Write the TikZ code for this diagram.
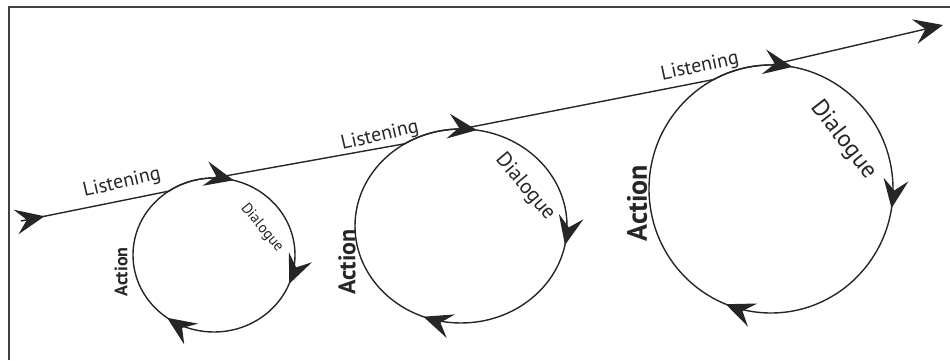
\documentclass[tikz,border=0pt]{standalone}
\usepackage{fontspec}
\setmainfont{PT Sans}
\usetikzlibrary{arrows.meta,decorations.markings,calc}

\begin{document}
\begin{tikzpicture}[x=0.5pt,y=0.5pt,
  line/.style={draw=black!85, line width=0.7pt},
  frame/.style={draw=black!75, line width=1.1pt},
  coilhead/.tip={Stealth[length=14.5pt,width=12.5pt,inset=5.5pt]},
  loop arrows/.style n args={3}{postaction={decorate},
    decoration={markings,
      mark=at position #1 with {\arrow{coilhead}},
      mark=at position #2 with {\arrow{coilhead}},
      mark=at position #3 with {\arrow{coilhead}}}},
  label/.style={inner sep=0pt, text=black!85}]

% ============================================================
% page and frame
% ============================================================

\useasboundingbox (0,0) rectangle (950,360);
\draw[frame] (9,0) -- (9,353) -- (950,353);

% ============================================================
% the three loops (centre, radii, entry angle, arrow positions)
% ============================================================

\foreach \n/\cx/\cy/\rx/\ry/\ain/\pa/\pb/\pc in {
    1/214/105/81/77/124/0.04/0.31/0.60,
    2/461/134/106/97/122/0.025/0.28/0.56,
    3/771/171/122/124/118/0.028/0.275/0.56} {

  \coordinate (loop\n) at (\cx,\cy);
  \coordinate (top\n) at ($(loop\n)+(0,\ry)$);
  \coordinate (entry\n) at ($(loop\n)+({\rx*cos(\ain)},{\ry*sin(\ain)})$);

  % clockwise, starting at the top
  \draw[line, loop arrows={\pa}{\pb}{\pc}]
    (top\n) arc[start angle=90, end angle=-270, x radius=\rx, y radius=\ry];
}

% ============================================================
% the listening line
% ============================================================

\coordinate (start) at (21,139);
\coordinate (finish) at (943,335);

\draw[line, -coilhead, postaction={decorate},
      decoration={markings, mark=at position 12pt with {\arrow{coilhead}}}]
  (start) -- (entry1) arc[start angle=124, end angle=90, x radius=81, y radius=77]
  -- (entry2) arc[start angle=122, end angle=90, x radius=106, y radius=97]
  -- (entry3) arc[start angle=118, end angle=90, x radius=122, y radius=124]
  -- (finish);

% ============================================================
% labels
% ============================================================

\node[label, rotate=13, font=\fontsize{10}{12}\selectfont] (listen1) at (122,177) {Listening};
\node[label, rotate=13, font=\fontsize{10}{12}\selectfont] (listen2) at (380,224) {Listening};
\node[label, rotate=12, font=\fontsize{10}{12}\selectfont] (listen3) at (700,293) {Listening};

\node[label, rotate=-50, font=\fontsize{7.5}{9}\selectfont] (dial1) at (262,132) {Dialogue};
\node[label, rotate=-50, font=\fontsize{10.5}{12}\selectfont] (dial2) at (525,173) {Dialogue};
\node[label, rotate=-52, font=\fontsize{12}{14}\selectfont] (dial3) at (843,220) {Dialogue};

\node[label, rotate=90, font=\fontsize{9}{11}\selectfont\bfseries] (act1) at (121,88) {Action};
\node[label, rotate=90, font=\fontsize{12}{14}\selectfont\bfseries] (act2) at (347,98) {Action};
\node[label, rotate=90, font=\fontsize{14}{16}\selectfont\bfseries] (act3) at (637,157) {Action};

\end{tikzpicture}
\end{document}
